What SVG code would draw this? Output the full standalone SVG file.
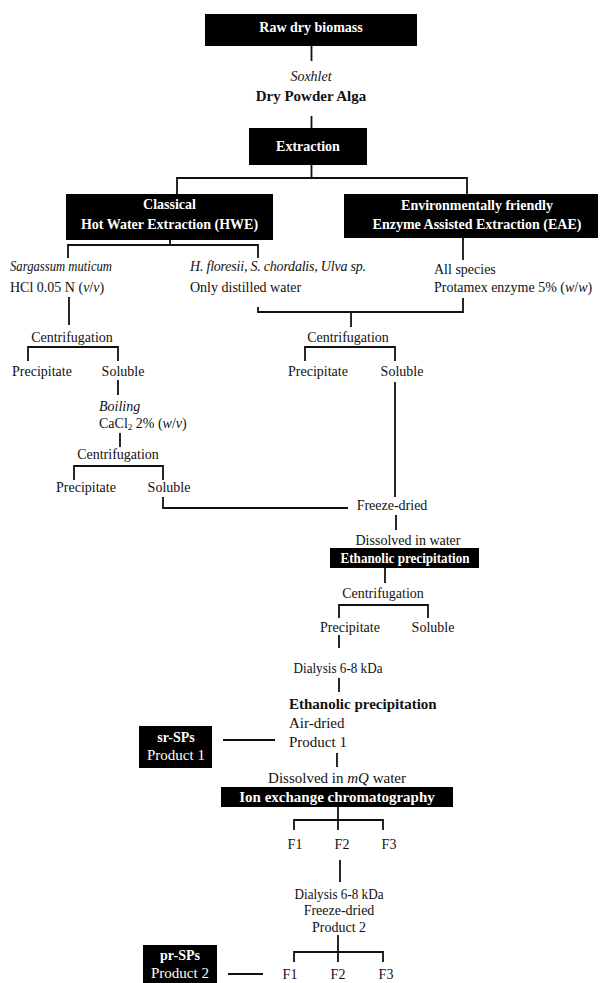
<svg xmlns="http://www.w3.org/2000/svg" width="601" height="983" viewBox="0 0 601 983">
<style>
text{font-family:"Liberation Serif","Times New Roman",serif;font-size:14px;fill:#111}
.c{text-anchor:middle}
.b{font-weight:bold}
.i{font-style:italic}
.w{fill:#fff}
.box{fill:#000}
.ln{stroke:#111;stroke-width:1.8;fill:none}
</style>
<rect width="601" height="983" fill="#fff"/>
<g id="connectors">
<path class="ln" d="M311.5 46V61M311.5 116V128M311.5 165V178M177 194V178H467V194"/>
<path class="ln" d="M170 240V245M68 258V245H258V258M69 297V325"/>
<path class="ln" d="M258 307V312H463V298M351 312V327M463 238V260"/>
<path class="ln" d="M28 361V347H118V361M118 380V395M120 433V447M74 480V466H163V480M163 497V508H348"/>
<path class="ln" d="M305 361V347H395V361M395 382V497"/>
<path class="ln" d="M396 515V530M385 568V583M339 618V605H428V618M339 635V648M339 678V692"/>
<path class="ln" d="M223 740H275M337 753V767M338 807V830M294 830V820H383V830M340 860V882"/>
<path class="ln" d="M338 935V962M294 962V952H383V962M228 974H263"/>
</g>
<g id="raw"><rect class="box" x="205" y="14" width="212" height="32"/><text class="c b w" x="311" y="32">Raw dry biomass</text></g>
<g id="soxhlet"><text class="c i" x="311" y="81">Soxhlet</text><text class="c b" x="311" y="101" style="font-size:15px">Dry Powder Alga</text></g>
<g id="extraction"><rect class="box" x="249" y="128" width="118" height="37"/><text class="c b w" x="308" y="151">Extraction</text></g>
<g id="hwe"><rect class="box" x="66" y="194" width="207" height="46"/><text class="c b w" x="169.5" y="209">Classical</text><text class="c b w" x="169.5" y="229">Hot Water Extraction (HWE)</text></g>
<g id="eae"><rect class="box" x="344" y="194" width="254" height="44"/><text class="c b w" x="477" y="210">Environmentally friendly</text><text class="c b w" x="477" y="229">Enzyme Assisted Extraction (EAE)</text></g>
<g id="sargassum"><text class="i" x="10" y="271" textLength="102" lengthAdjust="spacingAndGlyphs">Sargassum muticum</text><text x="10" y="292">HCl 0.05 N (<tspan class="i">v</tspan>/<tspan class="i">v</tspan>)</text></g>
<g id="species"><text class="i" x="190" y="271" textLength="176">H. floresii, S. chordalis, Ulva sp.</text><text x="190" y="292">Only distilled water</text></g>
<g id="allspecies"><text x="434" y="274">All species</text><text x="434" y="292">Protamex enzyme 5% (<tspan class="i">w</tspan>/<tspan class="i">w</tspan>)</text></g>
<g id="centL1"><text class="c" x="72" y="341.5">Centrifugation</text><text class="c" x="42" y="375.5">Precipitate</text><text class="c" x="123" y="375.5">Soluble</text></g>
<g id="boiling"><text class="i" x="99" y="411">Boiling</text><text x="99" y="428">CaCl<tspan style="font-size:9px" dy="2">2</tspan><tspan dy="-2"> 2% (</tspan><tspan class="i">w</tspan>/<tspan class="i">v</tspan>)</text></g>
<g id="centL2"><text class="c" x="118" y="459">Centrifugation</text><text class="c" x="86" y="492">Precipitate</text><text class="c" x="169" y="492">Soluble</text></g>
<g id="centR"><text class="c" x="348" y="341.5">Centrifugation</text><text class="c" x="318" y="375.5">Precipitate</text><text class="c" x="402" y="375.5">Soluble</text></g>
<g id="freeze1"><text class="c" x="392" y="510">Freeze-dried</text></g>
<g id="dissolved"><text class="c" x="408" y="545">Dissolved in water</text></g>
<g id="ethanol1"><rect class="box" x="330" y="548" width="149" height="20"/><text class="c b w" x="405" y="562.5" textLength="129" lengthAdjust="spacingAndGlyphs">Ethanolic precipitation</text></g>
<g id="cent3"><text class="c" x="383" y="597.5">Centrifugation</text><text class="c" x="350" y="631.5">Precipitate</text><text class="c" x="433" y="631.5">Soluble</text></g>
<g id="dialysis1"><text class="c" x="338" y="673" textLength="89" lengthAdjust="spacingAndGlyphs">Dialysis 6-8 kDa</text></g>
<g id="ethanol2"><text class="b" x="289" y="709" style="font-size:15px">Ethanolic precipitation</text><text x="289" y="728" style="font-size:15px">Air-dried</text><text x="289" y="747" style="font-size:15px">Product 1</text></g>
<g id="srsps"><rect class="box" x="139" y="726" width="73" height="42"/><text class="c b w" x="176" y="742">sr-SPs</text><text class="c w" x="176" y="760" style="font-size:15px">Product 1</text></g>
<g id="mq"><text class="c" x="337" y="783" style="font-size:15px">Dissolved in <tspan class="i">mQ</tspan> water</text></g>
<g id="ion"><rect class="box" x="221" y="787" width="232" height="20"/><text class="c b w" x="337" y="802" style="font-size:15px">Ion exchange chromatography</text></g>
<g id="f1row"><text class="c" x="295" y="849">F1</text><text class="c" x="342" y="849">F2</text><text class="c" x="389" y="849">F3</text></g>
<g id="dialysis2"><text class="c" x="339" y="899" textLength="89" lengthAdjust="spacingAndGlyphs">Dialysis 6-8 kDa</text><text class="c" x="339" y="915">Freeze-dried</text><text class="c" x="339" y="932">Product 2</text></g>
<g id="f2row"><text class="c" x="290" y="979">F1</text><text class="c" x="338" y="979">F2</text><text class="c" x="386" y="979">F3</text></g>
<g id="prsps"><rect class="box" x="143" y="945" width="74" height="40"/><text class="c b w" x="180" y="960">pr-SPs</text><text class="c w" x="180" y="978" style="font-size:15px">Product 2</text></g>
</svg>
